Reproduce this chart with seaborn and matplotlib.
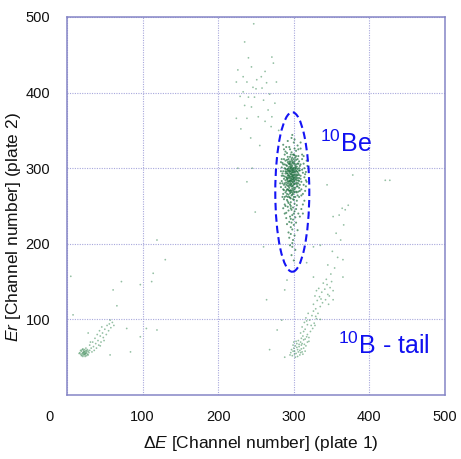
import matplotlib
matplotlib.use("Agg")
import matplotlib.pyplot as plt
import matplotlib.transforms as mtrans
from matplotlib.patches import Ellipse
import pandas as pd
import seaborn as sns

# ---------------- data ----------------
be_pts = [
    (296,301),(301,288),(293,276),(305,295),(289,310),(298,265),(310,282),(292,293),(300,318),(287,271),
    (303,305),(295,284),(299,297),(308,270),(291,258),(297,312),(304,279),(286,290),(302,262),(294,306),
    (311,298),(290,281),(298,289),(306,316),(293,254),(300,274),(288,300),(307,287),(296,268),(301,326),
    (284,283),(309,305),(295,296),(292,315),(303,269),(298,282),(290,263),(305,291),(299,308),(287,278),
    (302,299),(294,287),(310,264),(297,321),(291,272),(304,284),(289,296),(300,258),(296,309),(308,278),
    (293,300),(301,283),(286,266),(298,295),(305,312),(292,286),(299,271),(307,300),(295,261),(303,292),
    (290,304),(297,279),(302,314),(288,289),(306,269),(294,297),(300,287),(285,307),(309,290),(296,255),
    (292,280),(304,302),(298,273),(291,293),(301,306),(295,267),(307,283),(289,275),(299,318),(303,288),
    (297,292),(294,290),(299,285),(301,296),(296,280),(298,303),(293,297),(300,291),(295,277),(302,285),
    (297,298),(294,283),(299,294),(296,287),(301,279),(298,310),(292,299),(303,297),(297,270),(295,293),
    (300,300),(296,284),(298,276),(294,309),(302,290),(299,281),(293,288),(297,305),(301,272),(295,299),
    (294,328),(300,334),(289,322),(305,330),(297,340),(292,336),(303,323),(298,344),(286,331),(309,326),
    (295,325),(301,338),
    (296,247),(301,243),(292,249),(298,238),(304,251),(290,241),(299,232),(295,236),(303,228),(297,245),
    (288,252),(300,225),(294,229),(306,240),(298,219),(293,215),(301,211),(296,222),(299,205),(295,198),
    (302,192),(297,185),(300,178),(294,208),(298,196),(305,218),(291,226),(296,233),(303,246),(290,234),
    (298,299),(291,287),(304,276),(296,318),(300,262),(289,293),(307,309),(293,271),(302,301),(295,289),
    (299,266),(306,293),(292,308),(297,283),(301,317),(288,280),(305,264),(294,302),(300,295),(290,270),
    (303,286),(296,260),(298,314),(292,277),(307,297),(295,305),(299,288),(289,299),(304,268),(297,276),
    (301,309),(293,291),(296,300),(306,284),(291,266),(300,279),(298,307),(294,274),(302,295),(288,305),
    (305,276),(297,294),(292,283),(300,312),(296,271),(303,300),(290,288),(299,259),(295,315),(307,291),
    (294,295),(301,268),(297,289),(291,303),(304,281),(298,297),(293,265),(300,306),(296,278),(302,274),
    (289,284),(306,306),(299,300),(295,270),(303,316),(297,286),(292,296),(300,283),(305,299),(294,262),
    (298,291),(291,311),(302,280),(296,296),(307,274),(293,282),(300,298),(295,307),(304,290),(297,264),
    (290,295),(299,277),(301,292),(296,303),(294,279),(303,311),(298,285),(292,272),(305,287),(300,269),
    (297,301),(293,306),(299,290),(302,303),(295,282),(298,268),(291,298),(304,296),(296,292),(300,286),
    (283,296),(314,288),(285,262),(313,306),(284,312),(315,270),(286,247),(312,252),(287,325),(311,318),
    (282,280),(316,295),
    (298,201),(296,213),(300,240),(293,244),(297,228),(302,235),(295,252),(299,248),(292,256),(304,257),
    (301,253),(296,250),
    (284,290),(316,284),(286,305),(314,300),(283,275),(317,310),(288,318),(312,266),(285,280),(315,292),
    (287,259),(313,278),(286,296),(318,303),(289,268),(311,312),(284,301),(316,276),(287,286),(314,257),
    (290,328),(309,334),(286,272),(312,294),(283,308),(317,282),(288,262),(313,316),(285,293),(310,246),
    (288,240),(308,236),(291,320),(306,325),(289,250),(312,240),(287,312),(310,272),(292,262),(308,297),
    (293,312),(306,280),(291,285),(309,286),(294,270),(307,262),(292,290),(305,306),(290,278),(308,303),
]

btail_pts = [
    (298,52),(303,55),(308,53),(301,58),(311,57),(296,56),(305,60),(313,62),(300,62),(307,64),
    (315,58),(299,66),(304,68),(310,66),(302,50),(309,70),(316,65),(306,72),(300,70),(313,73),
    (297,60),(312,54),(304,63),(318,70),(308,59),(301,54),(311,68),(306,57),(315,74),(303,71),
    (305,51),(310,61),(299,58),(314,67),(307,67),(302,65),(317,77),(320,71),(295,53),(309,56),
    (312,78),(318,80),(309,82),(322,84),(315,87),(311,90),(325,88),(318,93),(314,96),(327,95),
    (321,99),(316,102),(330,101),(324,105),(319,108),(332,108),(326,111),(313,84),(320,76),(328,92),
    (310,75),(317,98),(323,92),(329,104),(335,100),
    (329,114),(335,117),(326,120),(338,122),(331,125),(342,126),(334,130),(328,131),(345,133),(337,136),
    (341,140),(333,141),(348,142),(344,146),(339,148),(350,150),(336,127),(346,120),(330,138),(343,153),
    (352,138),(347,131),
    (349,160),(354,168),(345,172),(358,182),(351,190),(362,205),(356,214),(366,225),(360,238),(368,245),
]

low_pts = [
    (20,55),(24,57),(22,53),(26,56),(19,58),(23,60),(27,54),(21,51),(25,59),(18,54),
    (24,55),(22,57),(28,58),(20,60),(26,52),(23,54),(17,56),(25,62),(21,56),(27,60),
    (24,51),(19,52),(29,56),(22,59),(26,58),(23,57),(20,53),(25,55),(18,59),(28,53),
    (21,61),(24,53),(30,59),(16,55),(22,55),
    (32,62),(35,64),(30,66),(38,68),(34,70),(41,72),(37,75),(44,78),(40,80),(47,82),
    (43,85),(50,87),(46,90),(53,92),(49,72),(56,94),(36,59),(42,66),(58,89),(45,70),
    (52,80),(39,62),(60,96),(33,57),(48,76),(55,85),(31,70),(62,92),(44,65),(57,99),
]

upper_pts = [
    (247,491),(235,467),(240,446),(271,447),(226,430),(238,414),(251,417),(264,413),(277,414),(224,414),
    (233,401),(240,394),(248,394),(235,383),(244,381),(260,390),(266,377),(271,368),(253,368),(238,366),
    (224,366),(273,439),(262,428),(244,434),(233,421),(275,386),(258,406),(246,407),(230,352),(243,340),
    (262,362),(270,355),(255,330),(280,350),(229,395),(257,421),(268,398),(250,405),
]

sparse_pts = [
    (5,157),(8,106),(66,118),(72,150),(79,88),(97,146),(97,77),(105,88),(112,150),(114,161),
    (119,205),(119,86),(130,179),(84,57),(57,53),(28,82),(61,139),(238,282),(260,196),(264,126),
    (284,99),(278,86),(268,60),(427,284),(421,284),(378,291),(372,251),(364,247),(352,236),(344,278),
    (365,179),(365,156),(352,126),(335,198),(326,196),(317,175),(326,156),(249,242),(226,300),(291,152),
    (288,139),(288,50),(245,300),
]

x_ticks = [0, 100, 200, 300, 400, 500]
y_ticks = [100, 200, 300, 400, 500]
x_label = r"$\mathit{ΔE}$ [Channel number] (plate 1)"
y_label = r"$\mathit{Er}$ [Channel number] (plate 2)"
be_label = r"$^{10}$Be"
b_label = r"$^{10}$B - tail"
ellipse_center = (298, 268.5)
ellipse_size = (45, 211)

# ---------------- style ----------------
sns.set_theme(style="white")
plt.rcParams["font.family"] = ["Liberation Sans", "DejaVu Sans"]
plt.rcParams["mathtext.fontset"] = "custom"
plt.rcParams["mathtext.rm"] = "Liberation Sans"
plt.rcParams["mathtext.it"] = "Liberation Sans:italic"
plt.rcParams["mathtext.bf"] = "Liberation Sans:bold"

df_be = pd.DataFrame(be_pts, columns=["x", "y"])
frames = []
for pts in (btail_pts, low_pts, upper_pts, sparse_pts):
    frames.append(pd.DataFrame(pts, columns=["x", "y"]))
df_rest = pd.concat(frames, ignore_index=True)

fig = plt.figure(figsize=(4.61, 4.59), dpi=100)
ax = fig.add_axes([67 / 461, 1 - 395 / 459, 378 / 461, 378 / 459])

sns.scatterplot(data=df_rest, x="x", y="y", ax=ax, s=1.6, color="#2a8048",
                alpha=0.5, linewidth=0, edgecolor="none", zorder=3)
sns.scatterplot(data=df_be, x="x", y="y", ax=ax, s=2.2, color="#1f7040",
                alpha=0.7, linewidth=0, edgecolor="none", zorder=3)

ax.add_patch(Ellipse(ellipse_center, ellipse_size[0], ellipse_size[1], fill=False,
                     edgecolor="#1414f5", lw=1.5, ls=(0, (3.6, 1.9)), zorder=4))

ax.set_xlim(0, 500)
ax.set_ylim(0, 500)
ax.set_xticks(x_ticks)
ax.set_yticks(y_ticks)
ax.set_xticklabels([str(t) for t in x_ticks])
ax.set_yticklabels([str(t) for t in y_ticks])
ax.tick_params(axis="both", length=0, labelsize=10.5, labelcolor="#111111")
ax.tick_params(axis="x", pad=11)
ax.tick_params(axis="y", pad=12)

# shift the lone "0" corner label left, as in the reference
lab0 = ax.get_xticklabels()[0]
lab0.set_transform(lab0.get_transform() + mtrans.ScaledTranslation(-0.18, 0, fig.dpi_scale_trans))

ax.grid(True, color="#a8a8dc", linestyle=(0, (1, 1.2)), linewidth=0.8, zorder=0)
for sp in ax.spines.values():
    sp.set_color("#8585c6")
    sp.set_linewidth(1.1)

ax.set_xlabel(x_label, fontsize=12.5, color="#111111")
ax.set_ylabel(y_label, fontsize=12.5, color="#111111")
ax.xaxis.set_label_coords(0.513, -0.103)
ax.yaxis.set_label_coords(-0.116, 0.444)

ax.text(335, 321, be_label, fontsize=18, color="#1010f0", ha="left", va="baseline", zorder=5)
ax.text(358, 54, b_label, fontsize=18, color="#1010f0", ha="left", va="baseline", zorder=5)

fig.savefig("out.png", dpi=100)
